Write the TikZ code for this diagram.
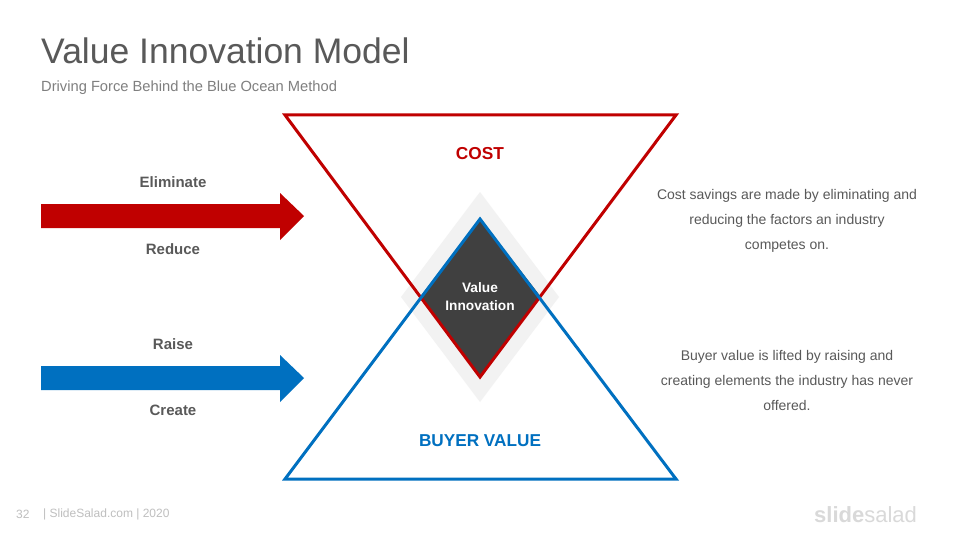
\documentclass[tikz,border=0pt]{standalone}
\usepackage{fontspec}
\setmainfont{Liberation Sans}
\definecolor{cred}{HTML}{C00000}
\definecolor{cblue}{HTML}{0070C0}
\definecolor{cdark}{HTML}{404040}
\definecolor{ctitle}{HTML}{595959}
\definecolor{csub}{HTML}{7F7F7F}
\definecolor{cbody}{HTML}{595959}
\definecolor{cghost}{HTML}{F2F2F2}
\definecolor{cfoot}{HTML}{BFBFBF}
\definecolor{clogo}{HTML}{D9D9D9}
\tikzset{
  x=1pt,y=-1pt,
  tri/.style={line width=3pt,line join=miter},
  label/.style={font=\fontsize{15}{18}\selectfont\bfseries,text=cbody,inner sep=0pt,anchor=center},
  body/.style={font=\fontsize{14}{25}\selectfont,text=cbody,align=center,inner sep=0pt,anchor=center},
  flow/.style={draw=none}
}
\begin{document}
\begin{tikzpicture}
\useasboundingbox (0,0) rectangle (960,540);
\fill[white] (0,0) rectangle (960,540);
% ghost and dark diamonds
\fill[cghost] (480,192) -- (559,297) -- (480,402) -- (401,297) -- cycle;
\fill[cdark] (480,218) -- (541,297) -- (480,378) -- (420,297) -- cycle;
% triangles
\draw[tri,cred] (285,115) -- (676,115) -- (480,377) -- cycle;
\draw[tri,cblue] (285,479) -- (676,479) -- (480,219) -- cycle;
% arrows
\fill[flow,cred] (41,204) -- (280,204) -- (280,193) -- (304,216) -- (280,240) -- (280,228) -- (41,228) -- cycle;
\fill[flow,cblue] (41,366) -- (280,366) -- (280,355) -- (304,378) -- (280,402) -- (280,390) -- (41,390) -- cycle;
% texts
\node[anchor=west,inner sep=0pt,text=ctitle,font=\fontsize{35.5}{40}\selectfont] (title) at (41,51) {Value Innovation Model};
\node[anchor=west,inner sep=0pt,text=csub,font=\fontsize{14.7}{17}\selectfont] (subtitle) at (41,87.5) {Driving Force Behind the Blue Ocean Method};
\node[font=\fontsize{17.3}{21}\selectfont\bfseries,text=cred,inner sep=0pt] (cost) at (480,154) {COST};
\node[font=\fontsize{17.2}{21}\selectfont\bfseries,text=cblue,inner sep=0pt] (buyer) at (480,441) {BUYER VALUE};
\node[font=\fontsize{13.7}{18}\selectfont\bfseries,text=white,align=center,inner sep=0pt] (vi) at (480,297) {Value\\Innovation};
\node[label] (elim) at (173,182) {Eliminate};
\node[label] (red) at (173,249) {Reduce};
\node[label] (raise) at (173,344) {Raise};
\node[label] (create) at (173,410) {Create};
\node[body] (t1) at (787,221) {Cost savings are made by eliminating and\\reducing the factors an industry\\competes on.};
\node[body] (t2) at (787,380) {Buyer value is lifted by raising and\\creating elements the industry has never\\offered.};
\node[anchor=west,inner sep=0pt,text=cfoot,font=\fontsize{12}{14}\selectfont] (pg) at (16,514) {32};
\node[anchor=west,inner sep=0pt,text=cfoot,font=\fontsize{12}{14}\selectfont] (foot) at (43,514) {| SlideSalad.com | 2020};
\node[anchor=west,inner sep=0pt,text=clogo,font=\fontsize{22}{26}\selectfont] (logo) at (814,515) {\textbf{slide}salad};
\end{tikzpicture}
\end{document}
